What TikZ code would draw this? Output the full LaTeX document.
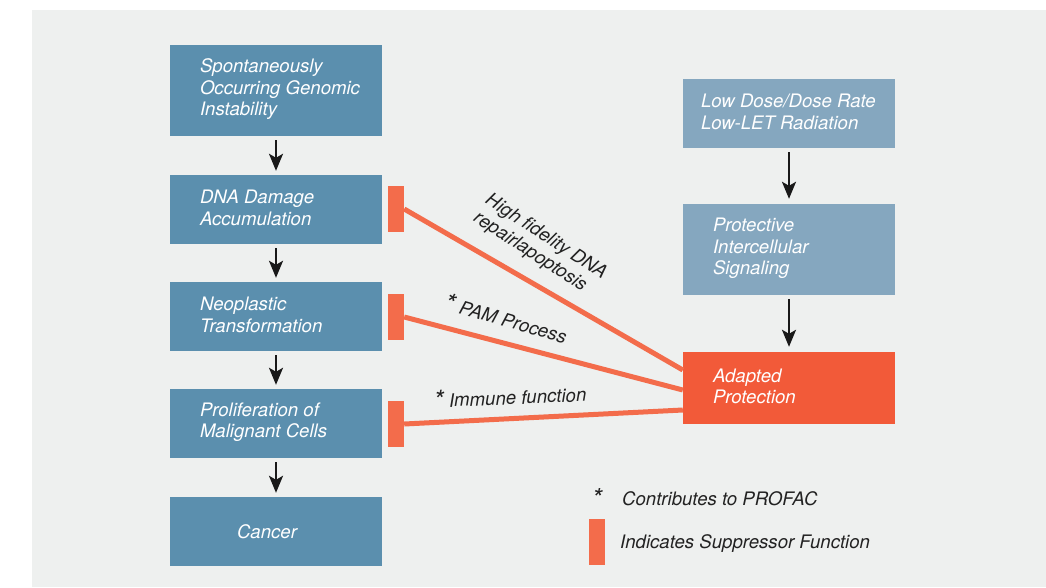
\documentclass[tikz,border=0pt]{standalone}
\usepackage{fontspec}
\setmainfont{TeX Gyre Heros}
\usetikzlibrary{arrows.meta}
\definecolor{bgc}{HTML}{EEF0EF}
\definecolor{bluea}{HTML}{5B8FAE}
\definecolor{blueb}{HTML}{85A7BF}
\definecolor{adapt}{HTML}{F25A39}
\definecolor{barc}{HTML}{F36C4B}
\definecolor{ink}{HTML}{222222}
\newcommand\bigast{\raisebox{-2pt}{\scalebox{1.4}{*}}}
\begin{document}
\begin{tikzpicture}[x=1pt,y=-1pt,
  box/.style={fill=#1, minimum width=212pt, inner sep=0pt},
  txt/.style={font=\fontsize{18.6}{21.5}\selectfont\itshape, text=white, align=left, anchor=west, inner sep=0pt},
  lbl/.style={font=\fontsize{18.6}{21.5}\selectfont\itshape, text=ink, align=left, inner sep=0pt},
  supbar/.style={fill=barc, minimum width=16pt, minimum height=46pt, inner sep=0pt},
  supline/.style={draw=barc, line width=5pt},
  arr/.style={-{Stealth[length=17pt,width=14pt,inset=4pt]}, line width=2.2pt, draw=black!90}]
\useasboundingbox (0,0) rectangle (1046,587);
\fill[bgc] (32,10) rectangle (1046,587);
% left column
\node[box=bluea, minimum height=91pt] (L1) at (276,90.5) {};
\node[box=bluea, minimum height=69pt] (L2) at (276,209.5) {};
\node[box=bluea, minimum height=69pt] (L3) at (276,316.5) {};
\node[box=bluea, minimum height=69pt] (L4) at (276,423.5) {};
\node[box=bluea, minimum height=69pt] (L5) at (276,531.5) {};
\node[txt] (t1) at ([xshift=30pt,yshift=1pt]L1.west) {Spontaneously\\Occurring Genomic\\Instability};
\node[txt] (t2) at ([xshift=30pt,yshift=1.5pt]L2.west) {DNA Damage\\Accumulation};
\node[txt] (t3) at ([xshift=30pt,yshift=1.5pt]L3.west) {Neoplastic\\Transformation};
\node[txt] (t4) at ([xshift=30pt,yshift=1.5pt]L4.west) {Proliferation of\\Malignant Cells};
\node[txt, anchor=center] (t5) at ([xshift=-9pt]L5.center) {Cancer};
% right column
\node[box=blueb, minimum height=69pt] (R1) at (789,113.5) {};
\node[box=blueb, minimum height=91pt] (R2) at (789,249.5) {};
\node[box=adapt, minimum height=72pt] (R3) at (789,388) {};
\node[txt] (r1) at ([xshift=18pt,yshift=1.5pt]R1.west) {Low Dose/Dose Rate\\Low-LET Radiation};
\node[txt] (r2) at ([xshift=30pt,yshift=1pt]R2.west) {Protective\\Intercellular\\Signaling};
\node[txt] (r3) at ([xshift=30pt,yshift=1.5pt]R3.west) {Adapted\\Protection};
% arrows
\draw[arr] ([yshift=-4pt]L1.south) -- ([yshift=4pt]L2.north);
\draw[arr] ([yshift=-4pt]L2.south) -- ([yshift=4pt]L3.north);
\draw[arr] ([yshift=-4pt]L3.south) -- ([yshift=4pt]L4.north);
\draw[arr] ([yshift=-4pt]L4.south) -- ([yshift=4pt]L5.north);
\draw[arr] ([yshift=-4pt]R1.south) -- ([yshift=5pt]R2.north);
\draw[arr] ([yshift=-4pt]R2.south) -- ([yshift=5pt]R3.north);
% suppressor bars and lines
\node[supbar] (b1) at (396,209) {};
\node[supbar] (b2) at (396,317) {};
\node[supbar] (b3) at (396,424) {};
\draw[supline] (b1.east) -- ([yshift=18pt]R3.west);
\draw[supline] (b2.east) -- ([yshift=-2pt]R3.west);
\draw[supline] (b3.east) -- ([yshift=-22pt]R3.west);
\node[lbl, rotate=-33] (l1) at (540,246) {High fidelity DNA\\repairlapoptosis};
\node[lbl, rotate=-16] (l2) at (506,319) {\bigast{} PAM Process};
\node[lbl, rotate=2.5] (l3) at (510,397) {\bigast{} Immune function};
% legend
\node[lbl, anchor=base] (s1) at (597,505) {\bigast};
\node[lbl, anchor=base west] (s2) at (622,505) {Contributes to PROFAC};
\node[supbar] (s3) at (597,542) {};
\node[lbl, anchor=base west] (s4) at (620,548) {Indicates Suppressor Function};
\end{tikzpicture}
\end{document}
